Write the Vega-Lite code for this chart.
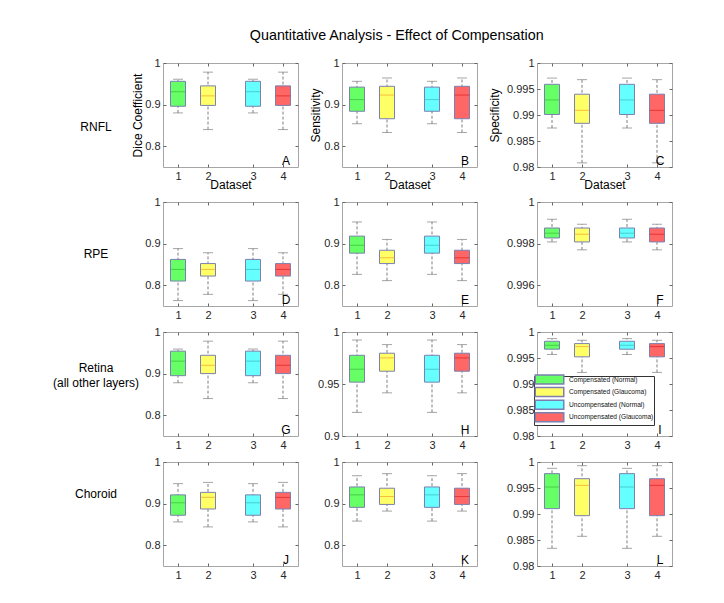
{
"$schema":"https://vega.github.io/schema/vega-lite/v6.json",
"padding":{"left":52,"top":29,"right":5,"bottom":5},
"title":{"text":"Quantitative Analysis - Effect of Compensation","fontSize":14.3,"fontWeight":"normal","color":"#000000","anchor":"middle","offset":13,"dx":34},
"data":{"values":[
{"panel":"A","dataset":"1","group":"Compensated (Normal)","lo":0.880,"q1":0.896,"med":0.931,"q3":0.956,"hi":0.961},
{"panel":"A","dataset":"2","group":"Compensated (Glaucoma)","lo":0.840,"q1":0.898,"med":0.921,"q3":0.945,"hi":0.978},
{"panel":"A","dataset":"3","group":"Uncompensated (Normal)","lo":0.880,"q1":0.896,"med":0.931,"q3":0.956,"hi":0.961},
{"panel":"A","dataset":"4","group":"Uncompensated (Glaucoma)","lo":0.840,"q1":0.898,"med":0.921,"q3":0.945,"hi":0.978},
{"panel":"B","dataset":"1","group":"Compensated (Normal)","lo":0.854,"q1":0.884,"med":0.912,"q3":0.942,"hi":0.956},
{"panel":"B","dataset":"2","group":"Compensated (Glaucoma)","lo":0.833,"q1":0.866,"med":0.923,"q3":0.944,"hi":0.964},
{"panel":"B","dataset":"3","group":"Uncompensated (Normal)","lo":0.854,"q1":0.884,"med":0.912,"q3":0.942,"hi":0.956},
{"panel":"B","dataset":"4","group":"Uncompensated (Glaucoma)","lo":0.833,"q1":0.866,"med":0.923,"q3":0.944,"hi":0.964},
{"panel":"C","dataset":"1","group":"Compensated (Normal)","lo":0.9875,"q1":0.9901,"med":0.9929,"q3":0.9959,"hi":0.9971},
{"panel":"C","dataset":"2","group":"Compensated (Glaucoma)","lo":0.9808,"q1":0.9884,"med":0.9909,"q3":0.9940,"hi":0.9968},
{"panel":"C","dataset":"3","group":"Uncompensated (Normal)","lo":0.9875,"q1":0.9901,"med":0.9929,"q3":0.9959,"hi":0.9971},
{"panel":"C","dataset":"4","group":"Uncompensated (Glaucoma)","lo":0.9808,"q1":0.9884,"med":0.9909,"q3":0.9940,"hi":0.9968},
{"panel":"D","dataset":"1","group":"Compensated (Normal)","lo":0.763,"q1":0.810,"med":0.838,"q3":0.862,"hi":0.888},
{"panel":"D","dataset":"2","group":"Compensated (Glaucoma)","lo":0.778,"q1":0.822,"med":0.838,"q3":0.852,"hi":0.878},
{"panel":"D","dataset":"3","group":"Uncompensated (Normal)","lo":0.763,"q1":0.810,"med":0.838,"q3":0.862,"hi":0.888},
{"panel":"D","dataset":"4","group":"Uncompensated (Glaucoma)","lo":0.778,"q1":0.822,"med":0.838,"q3":0.852,"hi":0.878},
{"panel":"E","dataset":"1","group":"Compensated (Normal)","lo":0.826,"q1":0.877,"med":0.896,"q3":0.918,"hi":0.952},
{"panel":"E","dataset":"2","group":"Compensated (Glaucoma)","lo":0.811,"q1":0.852,"med":0.866,"q3":0.884,"hi":0.910},
{"panel":"E","dataset":"3","group":"Uncompensated (Normal)","lo":0.826,"q1":0.877,"med":0.896,"q3":0.918,"hi":0.952},
{"panel":"E","dataset":"4","group":"Uncompensated (Glaucoma)","lo":0.811,"q1":0.852,"med":0.866,"q3":0.884,"hi":0.910},
{"panel":"F","dataset":"1","group":"Compensated (Normal)","lo":0.99808,"q1":0.99827,"med":0.99850,"q3":0.99875,"hi":0.99917},
{"panel":"F","dataset":"2","group":"Compensated (Glaucoma)","lo":0.99770,"q1":0.99808,"med":0.99845,"q3":0.99875,"hi":0.99893},
{"panel":"F","dataset":"3","group":"Uncompensated (Normal)","lo":0.99808,"q1":0.99827,"med":0.99850,"q3":0.99875,"hi":0.99917},
{"panel":"F","dataset":"4","group":"Uncompensated (Glaucoma)","lo":0.99770,"q1":0.99808,"med":0.99845,"q3":0.99875,"hi":0.99893},
{"panel":"G","dataset":"1","group":"Compensated (Normal)","lo":0.878,"q1":0.895,"med":0.930,"q3":0.954,"hi":0.959},
{"panel":"G","dataset":"2","group":"Compensated (Glaucoma)","lo":0.840,"q1":0.900,"med":0.920,"q3":0.944,"hi":0.978},
{"panel":"G","dataset":"3","group":"Uncompensated (Normal)","lo":0.878,"q1":0.895,"med":0.930,"q3":0.954,"hi":0.959},
{"panel":"G","dataset":"4","group":"Uncompensated (Glaucoma)","lo":0.840,"q1":0.900,"med":0.920,"q3":0.944,"hi":0.978},
{"panel":"H","dataset":"1","group":"Compensated (Normal)","lo":0.9227,"q1":0.9518,"med":0.9642,"q3":0.9776,"hi":0.9923},
{"panel":"H","dataset":"2","group":"Compensated (Glaucoma)","lo":0.9415,"q1":0.9623,"med":0.9751,"q3":0.9796,"hi":0.9879},
{"panel":"H","dataset":"3","group":"Uncompensated (Normal)","lo":0.9227,"q1":0.9518,"med":0.9642,"q3":0.9776,"hi":0.9923},
{"panel":"H","dataset":"4","group":"Uncompensated (Glaucoma)","lo":0.9415,"q1":0.9623,"med":0.9751,"q3":0.9796,"hi":0.9879},
{"panel":"I","dataset":"1","group":"Compensated (Normal)","lo":0.99567,"q1":0.99669,"med":0.99745,"q3":0.99822,"hi":0.99873},
{"panel":"I","dataset":"2","group":"Compensated (Glaucoma)","lo":0.99223,"q1":0.99522,"med":0.99720,"q3":0.99777,"hi":0.99841},
{"panel":"I","dataset":"3","group":"Uncompensated (Normal)","lo":0.99567,"q1":0.99669,"med":0.99745,"q3":0.99822,"hi":0.99873},
{"panel":"I","dataset":"4","group":"Uncompensated (Glaucoma)","lo":0.99223,"q1":0.99522,"med":0.99720,"q3":0.99777,"hi":0.99841},
{"panel":"J","dataset":"1","group":"Compensated (Normal)","lo":0.856,"q1":0.872,"med":0.902,"q3":0.921,"hi":0.948},
{"panel":"J","dataset":"2","group":"Compensated (Glaucoma)","lo":0.844,"q1":0.887,"med":0.915,"q3":0.927,"hi":0.951},
{"panel":"J","dataset":"3","group":"Uncompensated (Normal)","lo":0.856,"q1":0.872,"med":0.902,"q3":0.921,"hi":0.948},
{"panel":"J","dataset":"4","group":"Uncompensated (Glaucoma)","lo":0.844,"q1":0.887,"med":0.915,"q3":0.927,"hi":0.951},
{"panel":"K","dataset":"1","group":"Compensated (Normal)","lo":0.858,"q1":0.891,"med":0.921,"q3":0.940,"hi":0.967},
{"panel":"K","dataset":"2","group":"Compensated (Glaucoma)","lo":0.882,"q1":0.898,"med":0.917,"q3":0.937,"hi":0.972},
{"panel":"K","dataset":"3","group":"Uncompensated (Normal)","lo":0.858,"q1":0.891,"med":0.921,"q3":0.940,"hi":0.967},
{"panel":"K","dataset":"4","group":"Uncompensated (Glaucoma)","lo":0.882,"q1":0.898,"med":0.917,"q3":0.937,"hi":0.972},
{"panel":"L","dataset":"1","group":"Compensated (Normal)","lo":0.98340,"q1":0.99103,"med":0.99519,"q3":0.99776,"hi":0.99878},
{"panel":"L","dataset":"2","group":"Compensated (Glaucoma)","lo":0.98571,"q1":0.98968,"med":0.99551,"q3":0.99679,"hi":0.99929},
{"panel":"L","dataset":"3","group":"Uncompensated (Normal)","lo":0.98340,"q1":0.99103,"med":0.99519,"q3":0.99776,"hi":0.99878},
{"panel":"L","dataset":"4","group":"Uncompensated (Glaucoma)","lo":0.98571,"q1":0.98968,"med":0.99551,"q3":0.99679,"hi":0.99929}
]},
"columns":3,
"align":"each",
"spacing":{"row":4,"column":9},
"resolve":{"scale":{"color":"independent","fill":"independent"},"legend":{"color":"independent","fill":"independent"}},
"concat":[
{"width":135,"height":104,"transform":[{"filter":"datum.panel == 'A'"}],"resolve":{"axis":{"x":"independent","y":"independent"}},"layer":[
{"mark":{"type":"rule","color":"#7f7f7f","strokeDash":[3,2]},"encoding":{"x":{"field":"dataset","type":"ordinal","scale":{"type":"point","domain":["1","a","2","b","c","3","d","4"],"padding":1},"axis":{"orient":"bottom","values":["1","2","3","4"],"labelAngle":0,"tickSize":-3,"labelPadding":6,"title":"Dataset","titlePadding":-2}},"y":{"field":"lo","type":"quantitative","scale":{"domain":[0.75,1],"nice":false,"zero":false},"axis":{"orient":"left","values":[0.8,0.9,1],"format":"~g","tickSize":-3,"labelPadding":6,"title":"Dice Coefficient","titlePadding":0,"minExtent":19,"maxExtent":19}},"y2":{"field":"hi"}}},
{"mark":{"type":"tick","color":"#7f7f7f","size":10,"thickness":1},"encoding":{"x":{"field":"dataset","type":"ordinal","scale":{"type":"point","domain":["1","a","2","b","c","3","d","4"],"padding":1},"axis":null},"y":{"field":"lo","type":"quantitative","scale":{"domain":[0.75,1],"nice":false,"zero":false},"axis":null}}},
{"mark":{"type":"tick","color":"#7f7f7f","size":10,"thickness":1},"encoding":{"x":{"field":"dataset","type":"ordinal","scale":{"type":"point","domain":["1","a","2","b","c","3","d","4"],"padding":1},"axis":null},"y":{"field":"hi","type":"quantitative","scale":{"domain":[0.75,1],"nice":false,"zero":false},"axis":null}}},
{"mark":{"type":"bar","size":15,"stroke":"#7b80b0","strokeWidth":1},"encoding":{"x":{"field":"dataset","type":"ordinal","scale":{"type":"point","domain":["1","a","2","b","c","3","d","4"],"padding":1},"axis":{"orient":"top","values":["1","2","3","4"],"labels":false,"tickSize":-3,"title":null}},"y":{"field":"q1","type":"quantitative","scale":{"domain":[0.75,1],"nice":false,"zero":false},"axis":{"orient":"right","values":[0.8,0.9,1],"labels":false,"tickSize":-3,"title":null}},"y2":{"field":"q3"},"color":{"field":"group","type":"nominal","scale":{"domain":["Compensated (Normal)","Compensated (Glaucoma)","Uncompensated (Normal)","Uncompensated (Glaucoma)"],"range":["#66ff66","#ffff66","#66ffff","#ff6666"]},"legend":null}}},
{"mark":{"type":"tick","size":15,"thickness":1},"encoding":{"x":{"field":"dataset","type":"ordinal","scale":{"type":"point","domain":["1","a","2","b","c","3","d","4"],"padding":1},"axis":null},"y":{"field":"med","type":"quantitative","scale":{"domain":[0.75,1],"nice":false,"zero":false},"axis":null},"fill":{"field":"group","type":"nominal","scale":{"domain":["Compensated (Normal)","Compensated (Glaucoma)","Uncompensated (Normal)","Uncompensated (Glaucoma)"],"range":["#3cb83c","#f0a030","#3cb8b8","#e02020"]},"legend":null}}},
{"transform":[{"filter":"datum.dataset == '4'"}],"mark":{"type":"text","text":"A","fontSize":12,"dx":3,"dy":-2,"baseline":"alphabetic"},"encoding":{"x":{"field":"dataset","type":"ordinal","scale":{"type":"point","domain":["1","a","2","b","c","3","d","4"],"padding":1},"axis":null},"y":{"datum":0.75,"type":"quantitative","scale":{"domain":[0.75,1],"nice":false,"zero":false},"axis":null}}},
{"transform":[{"filter":"datum.dataset == '1'"}],"mark":{"type":"text","text":"RNFL","fontSize":12,"dx":-82,"dy":64,"baseline":"middle"},"encoding":{"x":{"field":"dataset","type":"ordinal","scale":{"type":"point","domain":["1","a","2","b","c","3","d","4"],"padding":1},"axis":null},"y":{"datum":1,"type":"quantitative","scale":{"domain":[0.75,1],"nice":false,"zero":false},"axis":null}}}
]},
{"width":135,"height":104,"transform":[{"filter":"datum.panel == 'B'"}],"resolve":{"axis":{"x":"independent","y":"independent"}},"layer":[
{"mark":{"type":"rule","color":"#7f7f7f","strokeDash":[3,2]},"encoding":{"x":{"field":"dataset","type":"ordinal","scale":{"type":"point","domain":["1","a","2","b","c","3","d","4"],"padding":1},"axis":{"orient":"bottom","values":["1","2","3","4"],"labelAngle":0,"tickSize":-3,"labelPadding":6,"title":"Dataset","titlePadding":-2}},"y":{"field":"lo","type":"quantitative","scale":{"domain":[0.75,1],"nice":false,"zero":false},"axis":{"orient":"left","values":[0.8,0.9,1],"format":"~g","tickSize":-3,"labelPadding":6,"title":"Sensitivity","titlePadding":1,"minExtent":19,"maxExtent":19}},"y2":{"field":"hi"}}},
{"mark":{"type":"tick","color":"#7f7f7f","size":10,"thickness":1},"encoding":{"x":{"field":"dataset","type":"ordinal","scale":{"type":"point","domain":["1","a","2","b","c","3","d","4"],"padding":1},"axis":null},"y":{"field":"lo","type":"quantitative","scale":{"domain":[0.75,1],"nice":false,"zero":false},"axis":null}}},
{"mark":{"type":"tick","color":"#7f7f7f","size":10,"thickness":1},"encoding":{"x":{"field":"dataset","type":"ordinal","scale":{"type":"point","domain":["1","a","2","b","c","3","d","4"],"padding":1},"axis":null},"y":{"field":"hi","type":"quantitative","scale":{"domain":[0.75,1],"nice":false,"zero":false},"axis":null}}},
{"mark":{"type":"bar","size":15,"stroke":"#7b80b0","strokeWidth":1},"encoding":{"x":{"field":"dataset","type":"ordinal","scale":{"type":"point","domain":["1","a","2","b","c","3","d","4"],"padding":1},"axis":{"orient":"top","values":["1","2","3","4"],"labels":false,"tickSize":-3,"title":null}},"y":{"field":"q1","type":"quantitative","scale":{"domain":[0.75,1],"nice":false,"zero":false},"axis":{"orient":"right","values":[0.8,0.9,1],"labels":false,"tickSize":-3,"title":null}},"y2":{"field":"q3"},"color":{"field":"group","type":"nominal","scale":{"domain":["Compensated (Normal)","Compensated (Glaucoma)","Uncompensated (Normal)","Uncompensated (Glaucoma)"],"range":["#66ff66","#ffff66","#66ffff","#ff6666"]},"legend":null}}},
{"mark":{"type":"tick","size":15,"thickness":1},"encoding":{"x":{"field":"dataset","type":"ordinal","scale":{"type":"point","domain":["1","a","2","b","c","3","d","4"],"padding":1},"axis":null},"y":{"field":"med","type":"quantitative","scale":{"domain":[0.75,1],"nice":false,"zero":false},"axis":null},"fill":{"field":"group","type":"nominal","scale":{"domain":["Compensated (Normal)","Compensated (Glaucoma)","Uncompensated (Normal)","Uncompensated (Glaucoma)"],"range":["#3cb83c","#f0a030","#3cb8b8","#e02020"]},"legend":null}}},
{"transform":[{"filter":"datum.dataset == '4'"}],"mark":{"type":"text","text":"B","fontSize":12,"dx":3,"dy":-2,"baseline":"alphabetic"},"encoding":{"x":{"field":"dataset","type":"ordinal","scale":{"type":"point","domain":["1","a","2","b","c","3","d","4"],"padding":1},"axis":null},"y":{"datum":0.75,"type":"quantitative","scale":{"domain":[0.75,1],"nice":false,"zero":false},"axis":null}}}
]},
{"width":135,"height":104,"transform":[{"filter":"datum.panel == 'C'"}],"resolve":{"axis":{"x":"independent","y":"independent"}},"layer":[
{"mark":{"type":"rule","color":"#7f7f7f","strokeDash":[3,2]},"encoding":{"x":{"field":"dataset","type":"ordinal","scale":{"type":"point","domain":["1","a","2","b","c","3","d","4"],"padding":1},"axis":{"orient":"bottom","values":["1","2","3","4"],"labelAngle":0,"tickSize":-3,"labelPadding":6,"title":"Dataset","titlePadding":-2}},"y":{"field":"lo","type":"quantitative","scale":{"domain":[0.98,1],"nice":false,"zero":false},"axis":{"orient":"left","values":[0.98,0.985,0.99,0.995,1],"format":"~g","tickSize":-3,"labelPadding":6,"title":"Specificity","titlePadding":5,"minExtent":31,"maxExtent":31}},"y2":{"field":"hi"}}},
{"mark":{"type":"tick","color":"#7f7f7f","size":10,"thickness":1},"encoding":{"x":{"field":"dataset","type":"ordinal","scale":{"type":"point","domain":["1","a","2","b","c","3","d","4"],"padding":1},"axis":null},"y":{"field":"lo","type":"quantitative","scale":{"domain":[0.98,1],"nice":false,"zero":false},"axis":null}}},
{"mark":{"type":"tick","color":"#7f7f7f","size":10,"thickness":1},"encoding":{"x":{"field":"dataset","type":"ordinal","scale":{"type":"point","domain":["1","a","2","b","c","3","d","4"],"padding":1},"axis":null},"y":{"field":"hi","type":"quantitative","scale":{"domain":[0.98,1],"nice":false,"zero":false},"axis":null}}},
{"mark":{"type":"bar","size":15,"stroke":"#7b80b0","strokeWidth":1},"encoding":{"x":{"field":"dataset","type":"ordinal","scale":{"type":"point","domain":["1","a","2","b","c","3","d","4"],"padding":1},"axis":{"orient":"top","values":["1","2","3","4"],"labels":false,"tickSize":-3,"title":null}},"y":{"field":"q1","type":"quantitative","scale":{"domain":[0.98,1],"nice":false,"zero":false},"axis":{"orient":"right","values":[0.98,0.985,0.99,0.995,1],"labels":false,"tickSize":-3,"title":null}},"y2":{"field":"q3"},"color":{"field":"group","type":"nominal","scale":{"domain":["Compensated (Normal)","Compensated (Glaucoma)","Uncompensated (Normal)","Uncompensated (Glaucoma)"],"range":["#66ff66","#ffff66","#66ffff","#ff6666"]},"legend":null}}},
{"mark":{"type":"tick","size":15,"thickness":1},"encoding":{"x":{"field":"dataset","type":"ordinal","scale":{"type":"point","domain":["1","a","2","b","c","3","d","4"],"padding":1},"axis":null},"y":{"field":"med","type":"quantitative","scale":{"domain":[0.98,1],"nice":false,"zero":false},"axis":null},"fill":{"field":"group","type":"nominal","scale":{"domain":["Compensated (Normal)","Compensated (Glaucoma)","Uncompensated (Normal)","Uncompensated (Glaucoma)"],"range":["#3cb83c","#f0a030","#3cb8b8","#e02020"]},"legend":null}}},
{"transform":[{"filter":"datum.dataset == '4'"}],"mark":{"type":"text","text":"C","fontSize":12,"dx":3,"dy":-2,"baseline":"alphabetic"},"encoding":{"x":{"field":"dataset","type":"ordinal","scale":{"type":"point","domain":["1","a","2","b","c","3","d","4"],"padding":1},"axis":null},"y":{"datum":0.98,"type":"quantitative","scale":{"domain":[0.98,1],"nice":false,"zero":false},"axis":null}}}
]},
{"width":135,"height":104,"transform":[{"filter":"datum.panel == 'D'"}],"resolve":{"axis":{"x":"independent","y":"independent"}},"layer":[
{"mark":{"type":"rule","color":"#7f7f7f","strokeDash":[3,2]},"encoding":{"x":{"field":"dataset","type":"ordinal","scale":{"type":"point","domain":["1","a","2","b","c","3","d","4"],"padding":1},"axis":{"orient":"bottom","values":["1","2","3","4"],"labelAngle":0,"tickSize":-3,"labelPadding":6,"title":null}},"y":{"field":"lo","type":"quantitative","scale":{"domain":[0.75,1],"nice":false,"zero":false},"axis":{"orient":"left","values":[0.8,0.9,1],"format":"~g","tickSize":-3,"labelPadding":6,"title":null,"minExtent":19,"maxExtent":19}},"y2":{"field":"hi"}}},
{"mark":{"type":"tick","color":"#7f7f7f","size":10,"thickness":1},"encoding":{"x":{"field":"dataset","type":"ordinal","scale":{"type":"point","domain":["1","a","2","b","c","3","d","4"],"padding":1},"axis":null},"y":{"field":"lo","type":"quantitative","scale":{"domain":[0.75,1],"nice":false,"zero":false},"axis":null}}},
{"mark":{"type":"tick","color":"#7f7f7f","size":10,"thickness":1},"encoding":{"x":{"field":"dataset","type":"ordinal","scale":{"type":"point","domain":["1","a","2","b","c","3","d","4"],"padding":1},"axis":null},"y":{"field":"hi","type":"quantitative","scale":{"domain":[0.75,1],"nice":false,"zero":false},"axis":null}}},
{"mark":{"type":"bar","size":15,"stroke":"#7b80b0","strokeWidth":1},"encoding":{"x":{"field":"dataset","type":"ordinal","scale":{"type":"point","domain":["1","a","2","b","c","3","d","4"],"padding":1},"axis":{"orient":"top","values":["1","2","3","4"],"labels":false,"tickSize":-3,"title":null}},"y":{"field":"q1","type":"quantitative","scale":{"domain":[0.75,1],"nice":false,"zero":false},"axis":{"orient":"right","values":[0.8,0.9,1],"labels":false,"tickSize":-3,"title":null}},"y2":{"field":"q3"},"color":{"field":"group","type":"nominal","scale":{"domain":["Compensated (Normal)","Compensated (Glaucoma)","Uncompensated (Normal)","Uncompensated (Glaucoma)"],"range":["#66ff66","#ffff66","#66ffff","#ff6666"]},"legend":null}}},
{"mark":{"type":"tick","size":15,"thickness":1},"encoding":{"x":{"field":"dataset","type":"ordinal","scale":{"type":"point","domain":["1","a","2","b","c","3","d","4"],"padding":1},"axis":null},"y":{"field":"med","type":"quantitative","scale":{"domain":[0.75,1],"nice":false,"zero":false},"axis":null},"fill":{"field":"group","type":"nominal","scale":{"domain":["Compensated (Normal)","Compensated (Glaucoma)","Uncompensated (Normal)","Uncompensated (Glaucoma)"],"range":["#3cb83c","#f0a030","#3cb8b8","#e02020"]},"legend":null}}},
{"transform":[{"filter":"datum.dataset == '4'"}],"mark":{"type":"text","text":"D","fontSize":12,"dx":3,"dy":-2,"baseline":"alphabetic"},"encoding":{"x":{"field":"dataset","type":"ordinal","scale":{"type":"point","domain":["1","a","2","b","c","3","d","4"],"padding":1},"axis":null},"y":{"datum":0.75,"type":"quantitative","scale":{"domain":[0.75,1],"nice":false,"zero":false},"axis":null}}},
{"transform":[{"filter":"datum.dataset == '1'"}],"mark":{"type":"text","text":"RPE","fontSize":12,"dx":-82,"dy":52,"baseline":"middle"},"encoding":{"x":{"field":"dataset","type":"ordinal","scale":{"type":"point","domain":["1","a","2","b","c","3","d","4"],"padding":1},"axis":null},"y":{"datum":1,"type":"quantitative","scale":{"domain":[0.75,1],"nice":false,"zero":false},"axis":null}}}
]},
{"width":135,"height":104,"transform":[{"filter":"datum.panel == 'E'"}],"resolve":{"axis":{"x":"independent","y":"independent"}},"layer":[
{"mark":{"type":"rule","color":"#7f7f7f","strokeDash":[3,2]},"encoding":{"x":{"field":"dataset","type":"ordinal","scale":{"type":"point","domain":["1","a","2","b","c","3","d","4"],"padding":1},"axis":{"orient":"bottom","values":["1","2","3","4"],"labelAngle":0,"tickSize":-3,"labelPadding":6,"title":null}},"y":{"field":"lo","type":"quantitative","scale":{"domain":[0.75,1],"nice":false,"zero":false},"axis":{"orient":"left","values":[0.8,0.9,1],"format":"~g","tickSize":-3,"labelPadding":6,"title":null,"minExtent":19,"maxExtent":19}},"y2":{"field":"hi"}}},
{"mark":{"type":"tick","color":"#7f7f7f","size":10,"thickness":1},"encoding":{"x":{"field":"dataset","type":"ordinal","scale":{"type":"point","domain":["1","a","2","b","c","3","d","4"],"padding":1},"axis":null},"y":{"field":"lo","type":"quantitative","scale":{"domain":[0.75,1],"nice":false,"zero":false},"axis":null}}},
{"mark":{"type":"tick","color":"#7f7f7f","size":10,"thickness":1},"encoding":{"x":{"field":"dataset","type":"ordinal","scale":{"type":"point","domain":["1","a","2","b","c","3","d","4"],"padding":1},"axis":null},"y":{"field":"hi","type":"quantitative","scale":{"domain":[0.75,1],"nice":false,"zero":false},"axis":null}}},
{"mark":{"type":"bar","size":15,"stroke":"#7b80b0","strokeWidth":1},"encoding":{"x":{"field":"dataset","type":"ordinal","scale":{"type":"point","domain":["1","a","2","b","c","3","d","4"],"padding":1},"axis":{"orient":"top","values":["1","2","3","4"],"labels":false,"tickSize":-3,"title":null}},"y":{"field":"q1","type":"quantitative","scale":{"domain":[0.75,1],"nice":false,"zero":false},"axis":{"orient":"right","values":[0.8,0.9,1],"labels":false,"tickSize":-3,"title":null}},"y2":{"field":"q3"},"color":{"field":"group","type":"nominal","scale":{"domain":["Compensated (Normal)","Compensated (Glaucoma)","Uncompensated (Normal)","Uncompensated (Glaucoma)"],"range":["#66ff66","#ffff66","#66ffff","#ff6666"]},"legend":null}}},
{"mark":{"type":"tick","size":15,"thickness":1},"encoding":{"x":{"field":"dataset","type":"ordinal","scale":{"type":"point","domain":["1","a","2","b","c","3","d","4"],"padding":1},"axis":null},"y":{"field":"med","type":"quantitative","scale":{"domain":[0.75,1],"nice":false,"zero":false},"axis":null},"fill":{"field":"group","type":"nominal","scale":{"domain":["Compensated (Normal)","Compensated (Glaucoma)","Uncompensated (Normal)","Uncompensated (Glaucoma)"],"range":["#3cb83c","#f0a030","#3cb8b8","#e02020"]},"legend":null}}},
{"transform":[{"filter":"datum.dataset == '4'"}],"mark":{"type":"text","text":"E","fontSize":12,"dx":3,"dy":-2,"baseline":"alphabetic"},"encoding":{"x":{"field":"dataset","type":"ordinal","scale":{"type":"point","domain":["1","a","2","b","c","3","d","4"],"padding":1},"axis":null},"y":{"datum":0.75,"type":"quantitative","scale":{"domain":[0.75,1],"nice":false,"zero":false},"axis":null}}}
]},
{"width":135,"height":104,"transform":[{"filter":"datum.panel == 'F'"}],"resolve":{"axis":{"x":"independent","y":"independent"}},"layer":[
{"mark":{"type":"rule","color":"#7f7f7f","strokeDash":[3,2]},"encoding":{"x":{"field":"dataset","type":"ordinal","scale":{"type":"point","domain":["1","a","2","b","c","3","d","4"],"padding":1},"axis":{"orient":"bottom","values":["1","2","3","4"],"labelAngle":0,"tickSize":-3,"labelPadding":6,"title":null}},"y":{"field":"lo","type":"quantitative","scale":{"domain":[0.995,1],"nice":false,"zero":false},"axis":{"orient":"left","values":[0.996,0.998,1],"format":"~g","tickSize":-3,"labelPadding":6,"title":null,"minExtent":31,"maxExtent":31}},"y2":{"field":"hi"}}},
{"mark":{"type":"tick","color":"#7f7f7f","size":10,"thickness":1},"encoding":{"x":{"field":"dataset","type":"ordinal","scale":{"type":"point","domain":["1","a","2","b","c","3","d","4"],"padding":1},"axis":null},"y":{"field":"lo","type":"quantitative","scale":{"domain":[0.995,1],"nice":false,"zero":false},"axis":null}}},
{"mark":{"type":"tick","color":"#7f7f7f","size":10,"thickness":1},"encoding":{"x":{"field":"dataset","type":"ordinal","scale":{"type":"point","domain":["1","a","2","b","c","3","d","4"],"padding":1},"axis":null},"y":{"field":"hi","type":"quantitative","scale":{"domain":[0.995,1],"nice":false,"zero":false},"axis":null}}},
{"mark":{"type":"bar","size":15,"stroke":"#7b80b0","strokeWidth":1},"encoding":{"x":{"field":"dataset","type":"ordinal","scale":{"type":"point","domain":["1","a","2","b","c","3","d","4"],"padding":1},"axis":{"orient":"top","values":["1","2","3","4"],"labels":false,"tickSize":-3,"title":null}},"y":{"field":"q1","type":"quantitative","scale":{"domain":[0.995,1],"nice":false,"zero":false},"axis":{"orient":"right","values":[0.996,0.998,1],"labels":false,"tickSize":-3,"title":null}},"y2":{"field":"q3"},"color":{"field":"group","type":"nominal","scale":{"domain":["Compensated (Normal)","Compensated (Glaucoma)","Uncompensated (Normal)","Uncompensated (Glaucoma)"],"range":["#66ff66","#ffff66","#66ffff","#ff6666"]},"legend":null}}},
{"mark":{"type":"tick","size":15,"thickness":1},"encoding":{"x":{"field":"dataset","type":"ordinal","scale":{"type":"point","domain":["1","a","2","b","c","3","d","4"],"padding":1},"axis":null},"y":{"field":"med","type":"quantitative","scale":{"domain":[0.995,1],"nice":false,"zero":false},"axis":null},"fill":{"field":"group","type":"nominal","scale":{"domain":["Compensated (Normal)","Compensated (Glaucoma)","Uncompensated (Normal)","Uncompensated (Glaucoma)"],"range":["#3cb83c","#f0a030","#3cb8b8","#e02020"]},"legend":null}}},
{"transform":[{"filter":"datum.dataset == '4'"}],"mark":{"type":"text","text":"F","fontSize":12,"dx":3,"dy":-2,"baseline":"alphabetic"},"encoding":{"x":{"field":"dataset","type":"ordinal","scale":{"type":"point","domain":["1","a","2","b","c","3","d","4"],"padding":1},"axis":null},"y":{"datum":0.995,"type":"quantitative","scale":{"domain":[0.995,1],"nice":false,"zero":false},"axis":null}}}
]},
{"width":135,"height":104,"transform":[{"filter":"datum.panel == 'G'"}],"resolve":{"axis":{"x":"independent","y":"independent"}},"layer":[
{"mark":{"type":"rule","color":"#7f7f7f","strokeDash":[3,2]},"encoding":{"x":{"field":"dataset","type":"ordinal","scale":{"type":"point","domain":["1","a","2","b","c","3","d","4"],"padding":1},"axis":{"orient":"bottom","values":["1","2","3","4"],"labelAngle":0,"tickSize":-3,"labelPadding":6,"title":null}},"y":{"field":"lo","type":"quantitative","scale":{"domain":[0.75,1],"nice":false,"zero":false},"axis":{"orient":"left","values":[0.8,0.9,1],"format":"~g","tickSize":-3,"labelPadding":6,"title":null,"minExtent":19,"maxExtent":19}},"y2":{"field":"hi"}}},
{"mark":{"type":"tick","color":"#7f7f7f","size":10,"thickness":1},"encoding":{"x":{"field":"dataset","type":"ordinal","scale":{"type":"point","domain":["1","a","2","b","c","3","d","4"],"padding":1},"axis":null},"y":{"field":"lo","type":"quantitative","scale":{"domain":[0.75,1],"nice":false,"zero":false},"axis":null}}},
{"mark":{"type":"tick","color":"#7f7f7f","size":10,"thickness":1},"encoding":{"x":{"field":"dataset","type":"ordinal","scale":{"type":"point","domain":["1","a","2","b","c","3","d","4"],"padding":1},"axis":null},"y":{"field":"hi","type":"quantitative","scale":{"domain":[0.75,1],"nice":false,"zero":false},"axis":null}}},
{"mark":{"type":"bar","size":15,"stroke":"#7b80b0","strokeWidth":1},"encoding":{"x":{"field":"dataset","type":"ordinal","scale":{"type":"point","domain":["1","a","2","b","c","3","d","4"],"padding":1},"axis":{"orient":"top","values":["1","2","3","4"],"labels":false,"tickSize":-3,"title":null}},"y":{"field":"q1","type":"quantitative","scale":{"domain":[0.75,1],"nice":false,"zero":false},"axis":{"orient":"right","values":[0.8,0.9,1],"labels":false,"tickSize":-3,"title":null}},"y2":{"field":"q3"},"color":{"field":"group","type":"nominal","scale":{"domain":["Compensated (Normal)","Compensated (Glaucoma)","Uncompensated (Normal)","Uncompensated (Glaucoma)"],"range":["#66ff66","#ffff66","#66ffff","#ff6666"]},"legend":null}}},
{"mark":{"type":"tick","size":15,"thickness":1},"encoding":{"x":{"field":"dataset","type":"ordinal","scale":{"type":"point","domain":["1","a","2","b","c","3","d","4"],"padding":1},"axis":null},"y":{"field":"med","type":"quantitative","scale":{"domain":[0.75,1],"nice":false,"zero":false},"axis":null},"fill":{"field":"group","type":"nominal","scale":{"domain":["Compensated (Normal)","Compensated (Glaucoma)","Uncompensated (Normal)","Uncompensated (Glaucoma)"],"range":["#3cb83c","#f0a030","#3cb8b8","#e02020"]},"legend":null}}},
{"transform":[{"filter":"datum.dataset == '4'"}],"mark":{"type":"text","text":"G","fontSize":12,"dx":3,"dy":-2,"baseline":"alphabetic"},"encoding":{"x":{"field":"dataset","type":"ordinal","scale":{"type":"point","domain":["1","a","2","b","c","3","d","4"],"padding":1},"axis":null},"y":{"datum":0.75,"type":"quantitative","scale":{"domain":[0.75,1],"nice":false,"zero":false},"axis":null}}},
{"transform":[{"filter":"datum.dataset == '1'"}],"mark":{"type":"text","text":["Retina","(all other layers)"],"fontSize":12,"lineHeight":15,"dx":-82,"dy":31,"baseline":"top"},"encoding":{"x":{"field":"dataset","type":"ordinal","scale":{"type":"point","domain":["1","a","2","b","c","3","d","4"],"padding":1},"axis":null},"y":{"datum":1,"type":"quantitative","scale":{"domain":[0.75,1],"nice":false,"zero":false},"axis":null}}}
]},
{"width":135,"height":104,"transform":[{"filter":"datum.panel == 'H'"}],"resolve":{"axis":{"x":"independent","y":"independent"}},"layer":[
{"mark":{"type":"rule","color":"#7f7f7f","strokeDash":[3,2]},"encoding":{"x":{"field":"dataset","type":"ordinal","scale":{"type":"point","domain":["1","a","2","b","c","3","d","4"],"padding":1},"axis":{"orient":"bottom","values":["1","2","3","4"],"labelAngle":0,"tickSize":-3,"labelPadding":6,"title":null}},"y":{"field":"lo","type":"quantitative","scale":{"domain":[0.9,1],"nice":false,"zero":false},"axis":{"orient":"left","values":[0.9,0.95,1],"format":"~g","tickSize":-3,"labelPadding":6,"title":null,"minExtent":19,"maxExtent":19}},"y2":{"field":"hi"}}},
{"mark":{"type":"tick","color":"#7f7f7f","size":10,"thickness":1},"encoding":{"x":{"field":"dataset","type":"ordinal","scale":{"type":"point","domain":["1","a","2","b","c","3","d","4"],"padding":1},"axis":null},"y":{"field":"lo","type":"quantitative","scale":{"domain":[0.9,1],"nice":false,"zero":false},"axis":null}}},
{"mark":{"type":"tick","color":"#7f7f7f","size":10,"thickness":1},"encoding":{"x":{"field":"dataset","type":"ordinal","scale":{"type":"point","domain":["1","a","2","b","c","3","d","4"],"padding":1},"axis":null},"y":{"field":"hi","type":"quantitative","scale":{"domain":[0.9,1],"nice":false,"zero":false},"axis":null}}},
{"mark":{"type":"bar","size":15,"stroke":"#7b80b0","strokeWidth":1},"encoding":{"x":{"field":"dataset","type":"ordinal","scale":{"type":"point","domain":["1","a","2","b","c","3","d","4"],"padding":1},"axis":{"orient":"top","values":["1","2","3","4"],"labels":false,"tickSize":-3,"title":null}},"y":{"field":"q1","type":"quantitative","scale":{"domain":[0.9,1],"nice":false,"zero":false},"axis":{"orient":"right","values":[0.9,0.95,1],"labels":false,"tickSize":-3,"title":null}},"y2":{"field":"q3"},"color":{"field":"group","type":"nominal","scale":{"domain":["Compensated (Normal)","Compensated (Glaucoma)","Uncompensated (Normal)","Uncompensated (Glaucoma)"],"range":["#66ff66","#ffff66","#66ffff","#ff6666"]},"legend":null}}},
{"mark":{"type":"tick","size":15,"thickness":1},"encoding":{"x":{"field":"dataset","type":"ordinal","scale":{"type":"point","domain":["1","a","2","b","c","3","d","4"],"padding":1},"axis":null},"y":{"field":"med","type":"quantitative","scale":{"domain":[0.9,1],"nice":false,"zero":false},"axis":null},"fill":{"field":"group","type":"nominal","scale":{"domain":["Compensated (Normal)","Compensated (Glaucoma)","Uncompensated (Normal)","Uncompensated (Glaucoma)"],"range":["#3cb83c","#f0a030","#3cb8b8","#e02020"]},"legend":null}}},
{"transform":[{"filter":"datum.dataset == '4'"}],"mark":{"type":"text","text":"H","fontSize":12,"dx":3,"dy":-2,"baseline":"alphabetic"},"encoding":{"x":{"field":"dataset","type":"ordinal","scale":{"type":"point","domain":["1","a","2","b","c","3","d","4"],"padding":1},"axis":null},"y":{"datum":0.9,"type":"quantitative","scale":{"domain":[0.9,1],"nice":false,"zero":false},"axis":null}}}
]},
{"width":135,"height":104,"transform":[{"filter":"datum.panel == 'I'"}],"resolve":{"axis":{"x":"independent","y":"independent"}},"layer":[
{"mark":{"type":"rule","color":"#7f7f7f","strokeDash":[3,2]},"encoding":{"x":{"field":"dataset","type":"ordinal","scale":{"type":"point","domain":["1","a","2","b","c","3","d","4"],"padding":1},"axis":{"orient":"bottom","values":["1","2","3","4"],"labelAngle":0,"tickSize":-3,"labelPadding":6,"title":null}},"y":{"field":"lo","type":"quantitative","scale":{"domain":[0.98,1],"nice":false,"zero":false},"axis":{"orient":"left","values":[0.98,0.985,0.99,0.995,1],"format":"~g","tickSize":-3,"labelPadding":6,"title":null,"minExtent":31,"maxExtent":31}},"y2":{"field":"hi"}}},
{"mark":{"type":"tick","color":"#7f7f7f","size":10,"thickness":1},"encoding":{"x":{"field":"dataset","type":"ordinal","scale":{"type":"point","domain":["1","a","2","b","c","3","d","4"],"padding":1},"axis":null},"y":{"field":"lo","type":"quantitative","scale":{"domain":[0.98,1],"nice":false,"zero":false},"axis":null}}},
{"mark":{"type":"tick","color":"#7f7f7f","size":10,"thickness":1},"encoding":{"x":{"field":"dataset","type":"ordinal","scale":{"type":"point","domain":["1","a","2","b","c","3","d","4"],"padding":1},"axis":null},"y":{"field":"hi","type":"quantitative","scale":{"domain":[0.98,1],"nice":false,"zero":false},"axis":null}}},
{"mark":{"type":"bar","size":15,"stroke":"#7b80b0","strokeWidth":1},"encoding":{"x":{"field":"dataset","type":"ordinal","scale":{"type":"point","domain":["1","a","2","b","c","3","d","4"],"padding":1},"axis":{"orient":"top","values":["1","2","3","4"],"labels":false,"tickSize":-3,"title":null}},"y":{"field":"q1","type":"quantitative","scale":{"domain":[0.98,1],"nice":false,"zero":false},"axis":{"orient":"right","values":[0.98,0.985,0.99,0.995,1],"labels":false,"tickSize":-3,"title":null}},"y2":{"field":"q3"},"color":{"field":"group","type":"nominal","scale":{"domain":["Compensated (Normal)","Compensated (Glaucoma)","Uncompensated (Normal)","Uncompensated (Glaucoma)"],"range":["#66ff66","#ffff66","#66ffff","#ff6666"]},"legend":{"title":null,"orient":"none","legendX":-3,"legendY":44,"padding":0,"fillColor":"#ffffff","strokeColor":"#333333","symbolType":"M-5.7,-1.8H5.7V1.8H-5.7Z","symbolSize":25,"symbolOffset":12,"labelOffset":16,"labelFontSize":6.6,"labelColor":"#111111","rowPadding":-2.4,"labelLimit":200,"encode":{"symbols":{"update":{"stroke":{"value":"#333333"},"strokeWidth":{"value":0.8},"opacity":{"value":1}}}}}}}},
{"mark":{"type":"tick","size":15,"thickness":1},"encoding":{"x":{"field":"dataset","type":"ordinal","scale":{"type":"point","domain":["1","a","2","b","c","3","d","4"],"padding":1},"axis":null},"y":{"field":"med","type":"quantitative","scale":{"domain":[0.98,1],"nice":false,"zero":false},"axis":null},"fill":{"field":"group","type":"nominal","scale":{"domain":["Compensated (Normal)","Compensated (Glaucoma)","Uncompensated (Normal)","Uncompensated (Glaucoma)"],"range":["#3cb83c","#f0a030","#3cb8b8","#e02020"]},"legend":null}}},
{"transform":[{"filter":"datum.dataset == '4'"}],"mark":{"type":"text","text":"I","fontSize":12,"dx":3,"dy":-2,"baseline":"alphabetic"},"encoding":{"x":{"field":"dataset","type":"ordinal","scale":{"type":"point","domain":["1","a","2","b","c","3","d","4"],"padding":1},"axis":null},"y":{"datum":0.98,"type":"quantitative","scale":{"domain":[0.98,1],"nice":false,"zero":false},"axis":null}}}
]},
{"width":135,"height":104,"transform":[{"filter":"datum.panel == 'J'"}],"resolve":{"axis":{"x":"independent","y":"independent"}},"layer":[
{"mark":{"type":"rule","color":"#7f7f7f","strokeDash":[3,2]},"encoding":{"x":{"field":"dataset","type":"ordinal","scale":{"type":"point","domain":["1","a","2","b","c","3","d","4"],"padding":1},"axis":{"orient":"bottom","values":["1","2","3","4"],"labelAngle":0,"tickSize":-3,"labelPadding":6,"title":null}},"y":{"field":"lo","type":"quantitative","scale":{"domain":[0.75,1],"nice":false,"zero":false},"axis":{"orient":"left","values":[0.8,0.9,1],"format":"~g","tickSize":-3,"labelPadding":6,"title":null,"minExtent":19,"maxExtent":19}},"y2":{"field":"hi"}}},
{"mark":{"type":"tick","color":"#7f7f7f","size":10,"thickness":1},"encoding":{"x":{"field":"dataset","type":"ordinal","scale":{"type":"point","domain":["1","a","2","b","c","3","d","4"],"padding":1},"axis":null},"y":{"field":"lo","type":"quantitative","scale":{"domain":[0.75,1],"nice":false,"zero":false},"axis":null}}},
{"mark":{"type":"tick","color":"#7f7f7f","size":10,"thickness":1},"encoding":{"x":{"field":"dataset","type":"ordinal","scale":{"type":"point","domain":["1","a","2","b","c","3","d","4"],"padding":1},"axis":null},"y":{"field":"hi","type":"quantitative","scale":{"domain":[0.75,1],"nice":false,"zero":false},"axis":null}}},
{"mark":{"type":"bar","size":15,"stroke":"#7b80b0","strokeWidth":1},"encoding":{"x":{"field":"dataset","type":"ordinal","scale":{"type":"point","domain":["1","a","2","b","c","3","d","4"],"padding":1},"axis":{"orient":"top","values":["1","2","3","4"],"labels":false,"tickSize":-3,"title":null}},"y":{"field":"q1","type":"quantitative","scale":{"domain":[0.75,1],"nice":false,"zero":false},"axis":{"orient":"right","values":[0.8,0.9,1],"labels":false,"tickSize":-3,"title":null}},"y2":{"field":"q3"},"color":{"field":"group","type":"nominal","scale":{"domain":["Compensated (Normal)","Compensated (Glaucoma)","Uncompensated (Normal)","Uncompensated (Glaucoma)"],"range":["#66ff66","#ffff66","#66ffff","#ff6666"]},"legend":null}}},
{"mark":{"type":"tick","size":15,"thickness":1},"encoding":{"x":{"field":"dataset","type":"ordinal","scale":{"type":"point","domain":["1","a","2","b","c","3","d","4"],"padding":1},"axis":null},"y":{"field":"med","type":"quantitative","scale":{"domain":[0.75,1],"nice":false,"zero":false},"axis":null},"fill":{"field":"group","type":"nominal","scale":{"domain":["Compensated (Normal)","Compensated (Glaucoma)","Uncompensated (Normal)","Uncompensated (Glaucoma)"],"range":["#3cb83c","#f0a030","#3cb8b8","#e02020"]},"legend":null}}},
{"transform":[{"filter":"datum.dataset == '4'"}],"mark":{"type":"text","text":"J","fontSize":12,"dx":3,"dy":-2,"baseline":"alphabetic"},"encoding":{"x":{"field":"dataset","type":"ordinal","scale":{"type":"point","domain":["1","a","2","b","c","3","d","4"],"padding":1},"axis":null},"y":{"datum":0.75,"type":"quantitative","scale":{"domain":[0.75,1],"nice":false,"zero":false},"axis":null}}},
{"transform":[{"filter":"datum.dataset == '1'"}],"mark":{"type":"text","text":"Choroid","fontSize":12,"dx":-82,"dy":32,"baseline":"middle"},"encoding":{"x":{"field":"dataset","type":"ordinal","scale":{"type":"point","domain":["1","a","2","b","c","3","d","4"],"padding":1},"axis":null},"y":{"datum":1,"type":"quantitative","scale":{"domain":[0.75,1],"nice":false,"zero":false},"axis":null}}}
]},
{"width":135,"height":104,"transform":[{"filter":"datum.panel == 'K'"}],"resolve":{"axis":{"x":"independent","y":"independent"}},"layer":[
{"mark":{"type":"rule","color":"#7f7f7f","strokeDash":[3,2]},"encoding":{"x":{"field":"dataset","type":"ordinal","scale":{"type":"point","domain":["1","a","2","b","c","3","d","4"],"padding":1},"axis":{"orient":"bottom","values":["1","2","3","4"],"labelAngle":0,"tickSize":-3,"labelPadding":6,"title":null}},"y":{"field":"lo","type":"quantitative","scale":{"domain":[0.75,1],"nice":false,"zero":false},"axis":{"orient":"left","values":[0.8,0.9,1],"format":"~g","tickSize":-3,"labelPadding":6,"title":null,"minExtent":19,"maxExtent":19}},"y2":{"field":"hi"}}},
{"mark":{"type":"tick","color":"#7f7f7f","size":10,"thickness":1},"encoding":{"x":{"field":"dataset","type":"ordinal","scale":{"type":"point","domain":["1","a","2","b","c","3","d","4"],"padding":1},"axis":null},"y":{"field":"lo","type":"quantitative","scale":{"domain":[0.75,1],"nice":false,"zero":false},"axis":null}}},
{"mark":{"type":"tick","color":"#7f7f7f","size":10,"thickness":1},"encoding":{"x":{"field":"dataset","type":"ordinal","scale":{"type":"point","domain":["1","a","2","b","c","3","d","4"],"padding":1},"axis":null},"y":{"field":"hi","type":"quantitative","scale":{"domain":[0.75,1],"nice":false,"zero":false},"axis":null}}},
{"mark":{"type":"bar","size":15,"stroke":"#7b80b0","strokeWidth":1},"encoding":{"x":{"field":"dataset","type":"ordinal","scale":{"type":"point","domain":["1","a","2","b","c","3","d","4"],"padding":1},"axis":{"orient":"top","values":["1","2","3","4"],"labels":false,"tickSize":-3,"title":null}},"y":{"field":"q1","type":"quantitative","scale":{"domain":[0.75,1],"nice":false,"zero":false},"axis":{"orient":"right","values":[0.8,0.9,1],"labels":false,"tickSize":-3,"title":null}},"y2":{"field":"q3"},"color":{"field":"group","type":"nominal","scale":{"domain":["Compensated (Normal)","Compensated (Glaucoma)","Uncompensated (Normal)","Uncompensated (Glaucoma)"],"range":["#66ff66","#ffff66","#66ffff","#ff6666"]},"legend":null}}},
{"mark":{"type":"tick","size":15,"thickness":1},"encoding":{"x":{"field":"dataset","type":"ordinal","scale":{"type":"point","domain":["1","a","2","b","c","3","d","4"],"padding":1},"axis":null},"y":{"field":"med","type":"quantitative","scale":{"domain":[0.75,1],"nice":false,"zero":false},"axis":null},"fill":{"field":"group","type":"nominal","scale":{"domain":["Compensated (Normal)","Compensated (Glaucoma)","Uncompensated (Normal)","Uncompensated (Glaucoma)"],"range":["#3cb83c","#f0a030","#3cb8b8","#e02020"]},"legend":null}}},
{"transform":[{"filter":"datum.dataset == '4'"}],"mark":{"type":"text","text":"K","fontSize":12,"dx":3,"dy":-2,"baseline":"alphabetic"},"encoding":{"x":{"field":"dataset","type":"ordinal","scale":{"type":"point","domain":["1","a","2","b","c","3","d","4"],"padding":1},"axis":null},"y":{"datum":0.75,"type":"quantitative","scale":{"domain":[0.75,1],"nice":false,"zero":false},"axis":null}}}
]},
{"width":135,"height":104,"transform":[{"filter":"datum.panel == 'L'"}],"resolve":{"axis":{"x":"independent","y":"independent"}},"layer":[
{"mark":{"type":"rule","color":"#7f7f7f","strokeDash":[3,2]},"encoding":{"x":{"field":"dataset","type":"ordinal","scale":{"type":"point","domain":["1","a","2","b","c","3","d","4"],"padding":1},"axis":{"orient":"bottom","values":["1","2","3","4"],"labelAngle":0,"tickSize":-3,"labelPadding":6,"title":null}},"y":{"field":"lo","type":"quantitative","scale":{"domain":[0.98,1],"nice":false,"zero":false},"axis":{"orient":"left","values":[0.98,0.985,0.99,0.995,1],"format":"~g","tickSize":-3,"labelPadding":6,"title":null,"minExtent":31,"maxExtent":31}},"y2":{"field":"hi"}}},
{"mark":{"type":"tick","color":"#7f7f7f","size":10,"thickness":1},"encoding":{"x":{"field":"dataset","type":"ordinal","scale":{"type":"point","domain":["1","a","2","b","c","3","d","4"],"padding":1},"axis":null},"y":{"field":"lo","type":"quantitative","scale":{"domain":[0.98,1],"nice":false,"zero":false},"axis":null}}},
{"mark":{"type":"tick","color":"#7f7f7f","size":10,"thickness":1},"encoding":{"x":{"field":"dataset","type":"ordinal","scale":{"type":"point","domain":["1","a","2","b","c","3","d","4"],"padding":1},"axis":null},"y":{"field":"hi","type":"quantitative","scale":{"domain":[0.98,1],"nice":false,"zero":false},"axis":null}}},
{"mark":{"type":"bar","size":15,"stroke":"#7b80b0","strokeWidth":1},"encoding":{"x":{"field":"dataset","type":"ordinal","scale":{"type":"point","domain":["1","a","2","b","c","3","d","4"],"padding":1},"axis":{"orient":"top","values":["1","2","3","4"],"labels":false,"tickSize":-3,"title":null}},"y":{"field":"q1","type":"quantitative","scale":{"domain":[0.98,1],"nice":false,"zero":false},"axis":{"orient":"right","values":[0.98,0.985,0.99,0.995,1],"labels":false,"tickSize":-3,"title":null}},"y2":{"field":"q3"},"color":{"field":"group","type":"nominal","scale":{"domain":["Compensated (Normal)","Compensated (Glaucoma)","Uncompensated (Normal)","Uncompensated (Glaucoma)"],"range":["#66ff66","#ffff66","#66ffff","#ff6666"]},"legend":null}}},
{"mark":{"type":"tick","size":15,"thickness":1},"encoding":{"x":{"field":"dataset","type":"ordinal","scale":{"type":"point","domain":["1","a","2","b","c","3","d","4"],"padding":1},"axis":null},"y":{"field":"med","type":"quantitative","scale":{"domain":[0.98,1],"nice":false,"zero":false},"axis":null},"fill":{"field":"group","type":"nominal","scale":{"domain":["Compensated (Normal)","Compensated (Glaucoma)","Uncompensated (Normal)","Uncompensated (Glaucoma)"],"range":["#3cb83c","#f0a030","#3cb8b8","#e02020"]},"legend":null}}},
{"transform":[{"filter":"datum.dataset == '4'"}],"mark":{"type":"text","text":"L","fontSize":12,"dx":3,"dy":-2,"baseline":"alphabetic"},"encoding":{"x":{"field":"dataset","type":"ordinal","scale":{"type":"point","domain":["1","a","2","b","c","3","d","4"],"padding":1},"axis":null},"y":{"datum":0.98,"type":"quantitative","scale":{"domain":[0.98,1],"nice":false,"zero":false},"axis":null}}}
]}
],
"config":{
"font":"Liberation Sans",
"background":"#ffffff",
"view":{"stroke":"#a6a6a6","strokeWidth":1},
"axis":{"grid":false,"domain":false,"ticks":true,"tickColor":"#666666","tickWidth":1,"labelFont":"Liberation Sans","labelFontSize":11,"labelColor":"#262626","titleFont":"Liberation Sans","titleFontSize":12,"titleFontWeight":"normal","titleColor":"#000000"},
"legend":{"labelFont":"Liberation Sans"},
"text":{"font":"Liberation Sans","color":"#000000"}
}
}
